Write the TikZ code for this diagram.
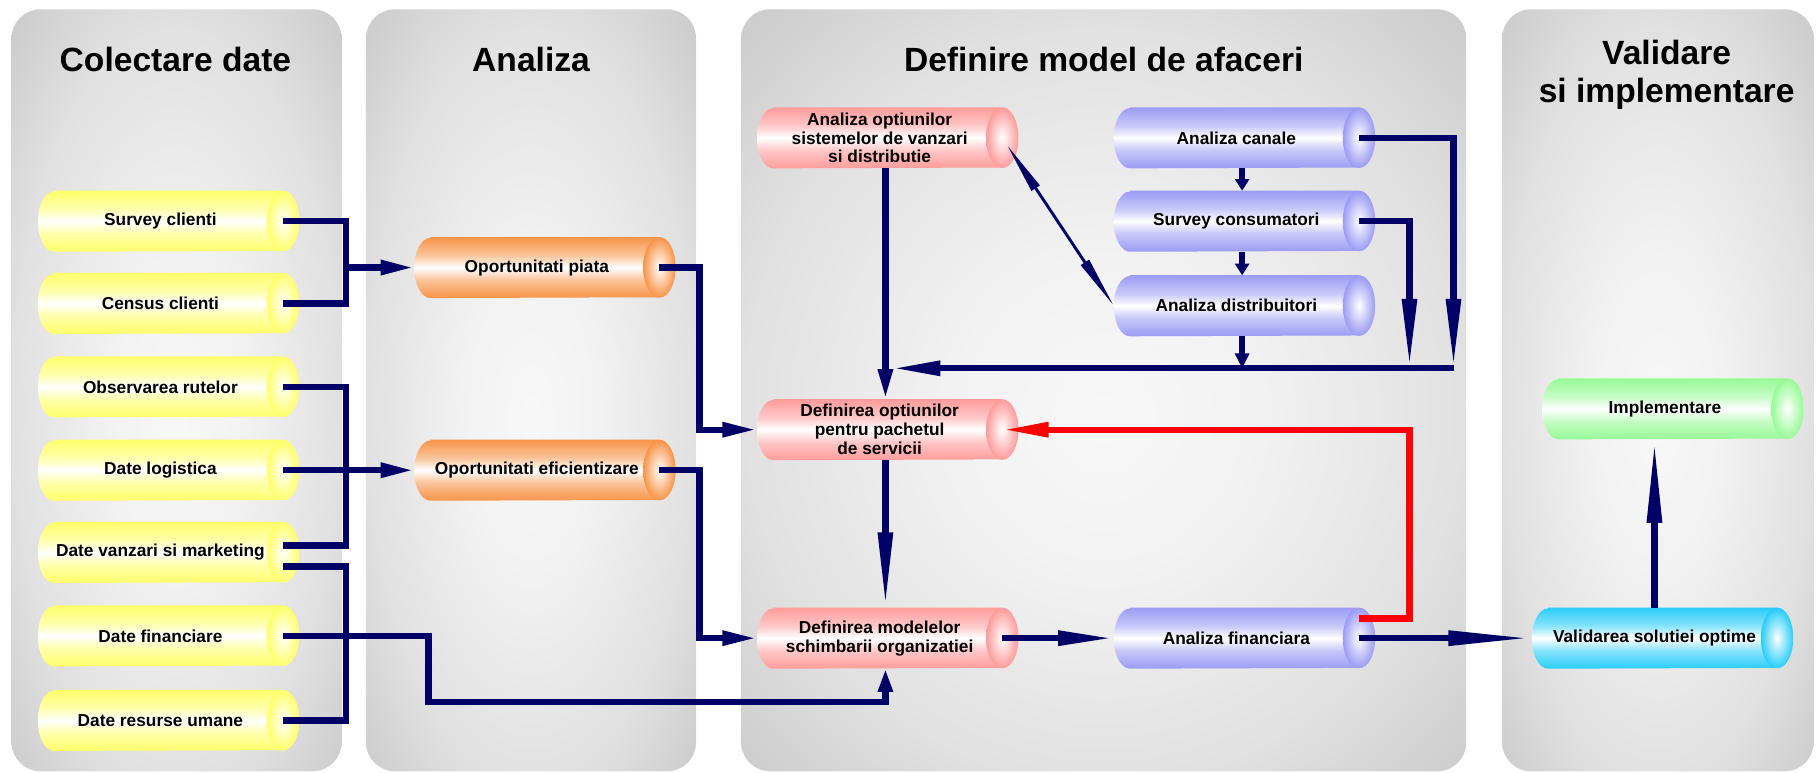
\documentclass[tikz,border=0pt]{standalone}
\usepackage{fontspec}
\setmainfont{Liberation Sans}
\usepackage{tikz}
\usetikzlibrary{calc}
\usetikzlibrary{arrows.meta}

\definecolor{navy}{RGB}{0,0,102}
\definecolor{flowred}{RGB}{255,0,0}
\definecolor{tubeyellow}{RGB}{255,255,105}
\definecolor{tubeorange}{RGB}{247,148,72}
\definecolor{tubepink}{RGB}{255,155,155}
\definecolor{tubeblue}{RGB}{155,155,245}
\definecolor{tubegreen}{RGB}{150,250,150}
\definecolor{tubecyan}{RGB}{40,205,250}
\colorlet{tubecol}{tubeyellow}

% shadings: light band through the middle of a tube, grey panels
\pgfdeclareverticalshading[tubecol]{tubeshade}{100bp}{color(0bp)=(tubecol); color(25bp)=(tubecol); color(40bp)=(tubecol!55!white); color(50bp)=(white); color(60bp)=(tubecol!55!white); color(75bp)=(tubecol); color(100bp)=(tubecol)}
\pgfdeclareradialshading{panelshade}{\pgfpoint{0bp}{-2bp}}{color(0bp)=(black!3); color(10bp)=(black!5); color(25bp)=(black!12); color(35bp)=(black!20); color(50bp)=(black!20)}

\pgfdeclarelayer{panels}
\pgfdeclarelayer{tubes}
\pgfsetlayers{panels,tubes,main}

\tikzset{
	% Boxes carry only the text, the tube is drawn below them
	tube node/.style={minimum width=42.2mm,minimum height=10.4mm,inner sep=0pt,align=center,
		font=\bfseries\fontsize{8.5}{9.3}\selectfont},
	title/.style={inner sep=0pt,align=center,font=\bfseries\fontsize{16.5}{18.7}\selectfont},
	stage panel/.style={shading=panelshade,rounded corners=5mm},
	% Two connector styles: navy flow and the red feedback
	flow/.style={draw=navy,line width=1.1mm},
	redflow/.style={draw=flowred,line width=1.1mm},
	thin flow/.style={draw=navy,line width=0.5mm},
	flow head/.style={-{Triangle[length=#1,width=2.4mm]}}
}

% tube body and end cap round a named node
\newcommand{\tube}[2]{%
	\colorlet{tubecol}{#2}%
	\shade[shading=tubeshade] ($(#1.north west)+(14,0)$) -- (#1.north east)
		arc[start angle=90,end angle=-90,x radius=14,y radius=26]
		-- ($(#1.south west)+(14,0)$)
		arc[start angle=270,end angle=90,x radius=14,y radius=26] -- cycle;
	\shade[inner color=white,outer color=tubecol] (#1.east) ellipse[x radius=14,y radius=26];
}

\begin{document}
\begin{tikzpicture}[x=0.2mm,y=0.2mm]
	\useasboundingbox (0,0) rectangle (1568,-667);
	
	% Four stages
	\begin{pgfonlayer}{panels}
		\foreach \a/\b in {10/295,316/601,640/1266,1297/1566}
			\shade[stage panel] (\a,-8) rectangle (\b,-666);
	\end{pgfonlayer}
	\node(t1)[title,anchor=base] at (151.5,-62) {Colectare date};
	\node(t2)[title,anchor=base] at (458.5,-62) {Analiza};
	\node(t3)[title,anchor=base] at (953,-62) {Definire model de afaceri};
	\node(t4)[title,anchor=north] at (1439,-34) {Validare\\si implementare};
	
	% Data sources
	\foreach \n/\y/\t in {survey/191/Survey clienti,census/262/Census clienti,
		observ/334/Observarea rutelor,logist/406/Date logistica,
		vanzari/477/Date vanzari si marketing,finant/549/Date financiare,
		resurse/622/Date resurse umane}
		\node(\n)[tube node] at (138.5,-\y) {\t};
	
	\node(piata)[tube node] at (463.5,-231) {Oportunitati piata};
	\node(efic)[tube node] at (463.5,-406) {Oportunitati eficientizare};
	
	\node(optsis)[tube node] at (759.5,-119) {Analiza optiunilor\\sistemelor de vanzari\\si distributie};
	\node(optpach)[tube node] at (759.5,-371) {Definirea optiunilor\\pentru pachetul\\de servicii};
	\node(modele)[tube node] at (759.5,-551) {Definirea modelelor\\schimbarii organizatiei};
	
	\node(canale)[tube node] at (1067.5,-119) {Analiza canale};
	\node(consum)[tube node] at (1067.5,-191) {Survey consumatori};
	\node(distrib)[tube node] at (1067.5,-264) {Analiza distribuitori};
	\node(financ)[tube node] at (1067.5,-551) {Analiza financiara};
	
	\node(impl)[tube node] at (1437.5,-353) {Implementare};
	\node(valid)[tube node] at (1428.5,-551) {Validarea solutiei optime};
	
	\begin{pgfonlayer}{tubes}
		\foreach \n/\c in {survey/tubeyellow,census/tubeyellow,observ/tubeyellow,
			logist/tubeyellow,vanzari/tubeyellow,finant/tubeyellow,resurse/tubeyellow,
			piata/tubeorange,efic/tubeorange,optsis/tubepink,optpach/tubepink,
			modele/tubepink,canale/tubeblue,consum/tubeblue,distrib/tubeblue,
			financ/tubeblue,impl/tubegreen,valid/tubecyan}
			{\tube{\n}{\c}}
	\end{pgfonlayer}
	
	% Junctions of the connectors
	\coordinate (j1) at (299,-231);
	\coordinate (j2) at (299,-406);
	\coordinate (k1) at (370,-606);
	\coordinate (k2) at (604,-371);
	\coordinate (k3) at (604,-551);
	\coordinate (bx0) at (770,-318);
	\coordinate (bx1) at (1217,-318);
	\coordinate (bx2) at (1255,-318);
	
	\draw[flow] (survey.east) -| (j1) |- (census.east);
	\draw[flow,flow head=5.8mm] (j1) -- (piata.west);
	\draw[flow] (observ.east) -| (j2) |- ([yshift=1.2mm]vanzari.east);
	\draw[flow,flow head=5.8mm] (logist.east) -- (efic.west);
	\draw[flow] ([yshift=-2.4mm]vanzari.east) -| (j2 |- resurse.east) -- (resurse.east);
	\draw[flow,flow head=4mm] (finant.east) -| (k1) -| ([xshift=1mm]modele.south);
	
	\draw[flow,flow head=6mm] (piata.east) -| (k2) -- (optpach.west);
	\draw[flow,flow head=6mm] (efic.east) -| (k3) -- (modele.west);
	
	\draw[flow,flow head=2mm] ([xshift=1mm]canale.south) -- ([xshift=1mm]consum.north);
	\draw[flow,flow head=2mm] ([xshift=1mm]consum.south) -- ([xshift=1mm]distrib.north);
	\draw[flow,flow head=2.6mm] ([xshift=1mm]distrib.south) -- ([xshift=1mm]distrib.south |- bx2);
	\draw[flow,flow head=12mm] (canale.east) -| (bx2);
	\draw[flow,flow head=12mm] (consum.east) -| (bx1);
	\draw[flow,flow head=8.4mm] (bx2) -- (bx0);
	\draw[thin flow,{Triangle[length=9mm,width=1.6mm]}-{Triangle[length=9mm,width=1.6mm]}] ([shift={(4,-6)}]optsis.east) -- (distrib.west);
	
	\draw[flow,flow head=5.2mm] ([xshift=1mm]optsis.south) -- ([xshift=1mm]optpach.north);
	\draw[flow,flow head=13mm] ([xshift=1mm]optpach.south) -- ([xshift=1mm]modele.north);
	\draw[flow,flow head=9.6mm] (modele.east) -- (financ.west);
	\draw[redflow,flow head=8mm] ([yshift=3.4mm]financ.east) -| (bx1 |- optpach.east) -- (optpach.east);
	\draw[flow,flow head=14.4mm] (financ.east) -- (valid.west);
	\draw[flow,flow head=14.4mm] (valid.north) -- (valid.north |- impl.south);
\end{tikzpicture}
\end{document}
